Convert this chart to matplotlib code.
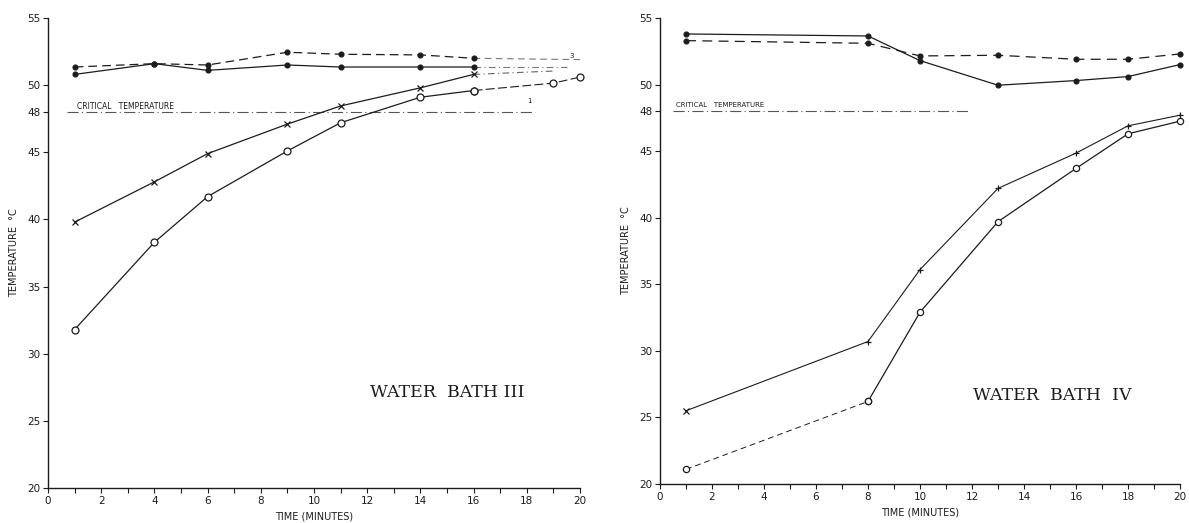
import matplotlib.pyplot as plt

# --- Water bath III (left) ---
t3 = [1, 4, 6, 9, 11, 14, 16]
bath3_solid = [50.8, 51.6, 51.1, 51.5, 51.35, 51.35, 51.35]
bath3_solid_tail_t = [16, 19.5]
bath3_solid_tail = [51.35, 51.35]
t3_dash = [1, 4, 6, 9, 11, 14, 16, 20]
bath3_dash = [51.35, 51.6, 51.5, 52.45, 52.3, 52.25, 52.0, 51.9]
t3_cross = [1, 4, 6, 9, 11, 14, 16, 19]
bath3_cross = [39.8, 42.8, 44.9, 47.1, 48.45, 49.8, 50.8, 51.05]
t3_circle = [1, 4, 6, 9, 11, 14, 16, 19, 20]
bath3_circle = [31.8, 38.3, 41.7, 45.1, 47.2, 49.1, 49.6, 50.15, 50.6]

# --- Water bath IV (right) ---
t4 = [1, 8, 10, 13, 16, 18, 20]
bath4_solid = [53.8, 53.65, 51.8, 49.95, 50.3, 50.6, 51.5]
bath4_dash = [53.3, 53.1, 52.15, 52.2, 51.9, 51.9, 52.3]
bath4_cross = [25.5, 30.7, 36.1, 42.2, 44.85, 46.9, 47.7]
bath4_circle = [21.1, 26.2, 32.9, 39.7, 43.7, 46.3, 47.25]

critical = 48
yticks = [20, 25, 30, 35, 40, 45, 48, 50, 55]
xticks_major = list(range(0, 21, 2))
xticks_minor = list(range(1, 20, 2))

ink = '#1c1c1c'
fig = plt.figure(figsize=(11.89, 5.23), dpi=100)
ax3 = fig.add_axes([0.0404, 0.0669, 0.4474, 0.8987])
ax4 = fig.add_axes([0.5551, 0.0746, 0.4373, 0.8910])


def style_axes(ax):
    ax.set_xlim(0, 20)
    ax.set_ylim(20, 55)
    for s in ['top', 'right']:
        ax.spines[s].set_visible(False)
    for s in ['left', 'bottom']:
        ax.spines[s].set_color(ink)
        ax.spines[s].set_linewidth(1.0)
    ax.set_yticks(yticks)
    ax.set_xticks(xticks_major)
    ax.set_xticks(xticks_minor, minor=True)
    ax.tick_params(axis='both', which='both', direction='out', length=3.5,
                   width=0.8, colors=ink, labelsize=7.5, pad=2)
    ax.set_xlabel('TIME (MINUTES)', fontsize=7, color=ink, labelpad=4)
    ax.set_ylabel('TEMPERATURE  °C', fontsize=7, color=ink, labelpad=6)


def draw(ax, t, y, marker, ls, ms=3.5, mfc=ink, lw=0.9):
    ax.plot(t, y, color=ink, lw=lw, ls=ls, marker=marker, ms=ms,
            mfc=mfc, mec=ink, mew=0.9, clip_on=False, zorder=3)


# left panel
style_axes(ax3)
ax3.plot([0.7, 18.3], [critical, critical], color='#555555', lw=0.8,
         ls=(0, (10, 3, 1, 3)))
ax3.text(1.1, 48.25, 'CRITICAL   TEMPERATURE', fontsize=5.5, color=ink)
draw(ax3, t3, bath3_solid, 'o', '-')
ax3.plot(bath3_solid_tail_t, bath3_solid_tail, color='#777777', lw=0.8,
         ls=(0, (6, 3, 1, 3)))
draw(ax3, t3_dash[:-1], bath3_dash[:-1], 'o', (0, (7, 4)))
ax3.plot(t3_dash[-2:], bath3_dash[-2:], color='#777777', lw=0.8,
         ls=(0, (6, 4)))
draw(ax3, t3_cross[:-1], bath3_cross[:-1], 'x', '-', ms=4)
ax3.plot(t3_cross[-2:], bath3_cross[-2:], color='#666666', lw=0.8,
         ls=(0, (6, 3, 1, 3)))
draw(ax3, t3_circle[:7], bath3_circle[:7], 'o', '-', ms=5, mfc='white')
draw(ax3, t3_circle[6:], bath3_circle[6:], 'o', (0, (8, 3)), ms=5,
     mfc='white', lw=0.8)
ax3.text(18.0, 48.7, '1', fontsize=5, color=ink)
ax3.text(19.6, 52.05, '3', fontsize=5, color=ink)
ax3.text(15.0, 27.1, 'WATER  BATH III', fontsize=12.5, family='DejaVu Serif',
         ha='center', va='center', color=ink)

# right panel
style_axes(ax4)
ax4.plot([0.5, 11.9], [critical, critical], color='#555555', lw=0.8,
         ls=(0, (10, 3, 1, 3)))
ax4.text(0.6, 48.3, 'CRITICAL   TEMPERATURE', fontsize=5, color=ink)
draw(ax4, t4, bath4_solid, 'o', '-')
draw(ax4, t4, bath4_dash, 'o', (0, (8, 5)))
ax4.plot(t4, bath4_cross, color=ink, lw=0.8, zorder=2)
draw(ax4, t4[:1], bath4_cross[:1], 'x', 'none', ms=4)
draw(ax4, t4[1:], bath4_cross[1:], '+', 'none', ms=5)
draw(ax4, t4[:2], bath4_circle[:2], 'o', (0, (6, 4)), ms=4.5, mfc='white',
     lw=0.7)
draw(ax4, t4[1:], bath4_circle[1:], 'o', '-', ms=4.5, mfc='white')
ax4.text(15.1, 26.65, 'WATER  BATH  IV', fontsize=12.5, family='DejaVu Serif',
         ha='center', va='center', color=ink)

fig.savefig('out.png', dpi=100, facecolor='white')
